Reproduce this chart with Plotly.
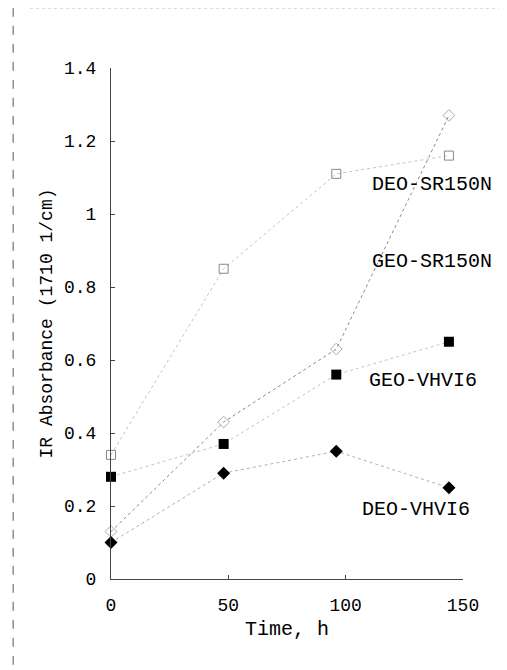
import plotly.graph_objects as go

time_h = [0, 48, 96, 144]
deo_sr150n = [0.34, 0.85, 1.11, 1.16]
geo_sr150n = [0.13, 0.43, 0.63, 1.27]
geo_vhvi6 = [0.28, 0.37, 0.56, 0.65]
deo_vhvi6 = [0.10, 0.29, 0.35, 0.25]

label_names = ["DEO-SR150N", "GEO-SR150N", "GEO-VHVI6", "DEO-VHVI6"]
label_x = [137, 137, 133, 130]
label_y = [1.08, 0.87, 0.545, 0.19]

FONT = "Liberation Mono"

fig = go.Figure()
fig.add_trace(go.Scatter(x=time_h, y=deo_sr150n, mode="lines+markers",
                         line=dict(color="#c4c4c4", width=1, dash="dot"),
                         marker=dict(symbol="square-open", size=9, color="#888888",
                                     line=dict(width=1)),
                         cliponaxis=False))
fig.add_trace(go.Scatter(x=time_h, y=geo_sr150n, mode="lines+markers",
                         line=dict(color="#8a8a8a", width=1, dash="dot"),
                         marker=dict(symbol="diamond-open", size=9, color="#aaaaaa",
                                     line=dict(width=1)),
                         cliponaxis=False))
fig.add_trace(go.Scatter(x=time_h, y=geo_vhvi6, mode="lines+markers",
                         line=dict(color="#c4c4c4", width=1, dash="dot"),
                         marker=dict(symbol="square", size=10, color="black"),
                         cliponaxis=False))
fig.add_trace(go.Scatter(x=time_h, y=deo_vhvi6, mode="lines+markers",
                         line=dict(color="#b0b0b0", width=1, dash="dot"),
                         marker=dict(symbol="diamond", size=10, color="black"),
                         cliponaxis=False))

for name, lx, ly in zip(label_names, label_x, label_y):
    fig.add_annotation(x=lx, y=ly, text=name, showarrow=False,
                       font=dict(family=FONT, size=20, color="black"))

# scan frame lines
fig.add_shape(type="line", xref="paper", yref="paper",
              x0=-0.278, x1=-0.278, y0=-0.168, y1=1.117,
              line=dict(color="#555555", width=1, dash="dash"))
fig.add_shape(type="line", xref="paper", yref="paper",
              x0=-0.23, x1=1.15, y0=1.117, y1=1.117,
              line=dict(color="#cccccc", width=1, dash="dot"))

fig.update_layout(
    width=507, height=670,
    margin=dict(l=103, r=52, t=60, b=99),
    paper_bgcolor="white", plot_bgcolor="white",
    showlegend=False,
    font=dict(family=FONT, color="black"),
    xaxis=dict(range=[0, 150], tickvals=[0, 50, 100, 150], showgrid=False,
               zeroline=False, showline=True, linecolor="#444444", linewidth=1,
               ticks="inside", ticklen=4, tickcolor="#444444",
               ticklabelstandoff=9,
               tickfont=dict(family=FONT, size=18),
               title=dict(text="Time, h", font=dict(family=FONT, size=20), standoff=6)),
    yaxis=dict(range=[0, 1.4], tickvals=[0, 0.2, 0.4, 0.6, 0.8, 1, 1.2, 1.4],
               ticktext=["0", "0.2", "0.4", "0.6", "0.8", "1", "1.2", "1.4"],
               showgrid=False, zeroline=False, showline=True, linecolor="#444444",
               linewidth=1, ticks="inside", ticklen=4, tickcolor="#444444",
               ticklabelstandoff=10,
               tickfont=dict(family=FONT, size=18),
               title=dict(text="IR Absorbance (1710 1/cm)",
                          font=dict(family=FONT, size=18), standoff=6)),
)

fig.write_html("out.html")
